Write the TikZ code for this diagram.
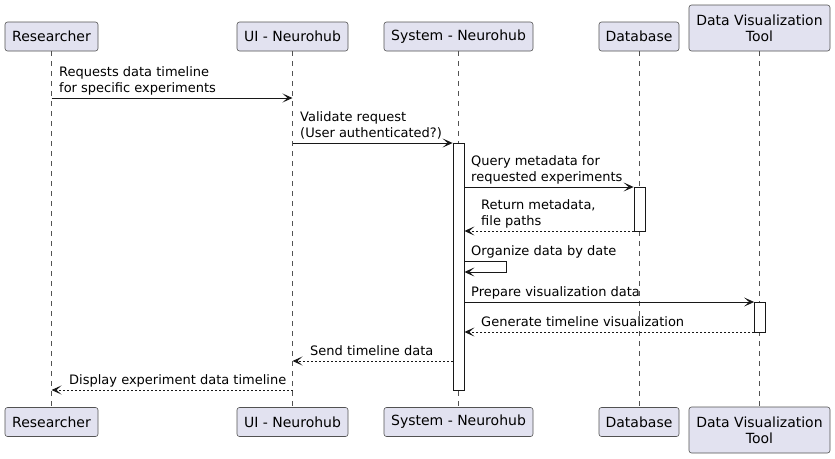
\documentclass[tikz,border=0pt]{standalone}
\usepackage{fontspec}
\setmainfont{DejaVu Sans}
\usetikzlibrary{arrows.meta}
\definecolor{pbox}{HTML}{E2E2F0}
\definecolor{ink}{HTML}{181818}
\begin{document}
\begin{tikzpicture}[x=1pt,y=-1pt,
 part/.style={draw=ink!75, fill=pbox, rounded corners=2.5pt, line width=0.6pt, font=\fontsize{14}{16}\selectfont, inner sep=0pt, align=center, minimum height=29pt},
 life/.style={draw=ink!75, line width=0.6pt, dash pattern=on 5pt off 5pt},
 act/.style={draw=ink, fill=white, line width=0.8pt, inner sep=0pt, minimum width=11pt, anchor=north},
 msg/.style={draw=ink, line width=0.9pt, -{Stealth[length=10pt,width=9pt,inset=5pt]}},
 ret/.style={msg, dash pattern=on 2pt off 2pt},
 lbl/.style={font=\fontsize{13}{16}\selectfont, align=left, inner sep=0pt, anchor=south west, execute at end node=\strut}
]
\useasboundingbox (0,0) rectangle (835,458);
% participants top
\node[part, minimum width=93pt] (r) at (51.5,36.5) {Researcher};
\node[part, minimum width=111pt] (ui) at (292.5,36.5) {UI - Neurohub};
\node[part, minimum width=149pt] (sys) at (458.5,36.5) {System - Neurohub};
\node[part, minimum width=80pt] (db) at (639,36.5) {Database};
\node[part, minimum width=141pt, minimum height=46pt] (dvt) at (759.5,28) {Data Visualization\\Tool};
% participants bottom
\node[part, minimum width=93pt] (rb) at (51.5,422) {Researcher};
\node[part, minimum width=111pt] (uib) at (292.5,422) {UI - Neurohub};
\node[part, minimum width=149pt] (sysb) at (458.5,422) {System - Neurohub};
\node[part, minimum width=80pt] (dbb) at (639,422) {Database};
\node[part, minimum width=141pt, minimum height=46pt] (dvtb) at (759.5,430) {Data Visualization\\Tool};
% lifelines
\draw[life] (r.south) -- (rb.north);
\draw[life] (ui.south) -- (uib.north);
\draw[life] (sys.south) -- (sysb.north);
\draw[life] (db.south) -- (dbb.north);
\draw[life] (dvt.south) -- (dvtb.north);
% activations
\node[act, minimum height=247pt] (asys) at (458.5,143) {};
\node[act, minimum height=44pt] (adb) at (639.5,187) {};
\node[act, minimum height=30pt] (advt) at (760,302) {};
% messages
\draw[msg] (r.south |- 0,98) -- (ui.south |- 0,98);
\node[lbl] (l1) at (59,97.3) {Requests data timeline\\for specific experiments};
\draw[msg] (ui.south |- 0,143) -- (asys.west |- 0,143);
\node[lbl] (l2) at (300,142.3) {Validate request\\(User authenticated?)};
\draw[msg] (asys.east |- 0,187) -- (adb.west |- 0,187);
\node[lbl] (l3) at (471,186.3) {Query metadata for\\requested experiments};
\draw[ret] (adb.west |- 0,231) -- (asys.east |- 0,231);
\node[lbl] (l4) at (481,230.3) {Return metadata,\\file paths};
\coordinate (s1) at (506,261);
\coordinate (s2) at (506,272);
\draw[msg] (asys.east |- s1) -- (s1) -- (s2) -- (asys.east |- s2);
\node[lbl] (l5) at (471,260.3) {Organize data by date};
\draw[msg] (asys.east |- 0,302) -- (advt.west |- 0,302);
\node[lbl] (l6) at (471,301.3) {Prepare visualization data};
\draw[ret] (advt.west |- 0,332) -- (asys.east |- 0,332);
\node[lbl] (l7) at (481,331.3) {Generate timeline visualization};
\draw[ret] (asys.west |- 0,361) -- (ui.south |- 0,361);
\node[lbl] (l8) at (310,360.3) {Send timeline data};
\draw[ret] (ui.south |- 0,390) -- (r.south |- 0,390);
\node[lbl] (l9) at (69,389.3) {Display experiment data timeline};
\end{tikzpicture}
\end{document}
